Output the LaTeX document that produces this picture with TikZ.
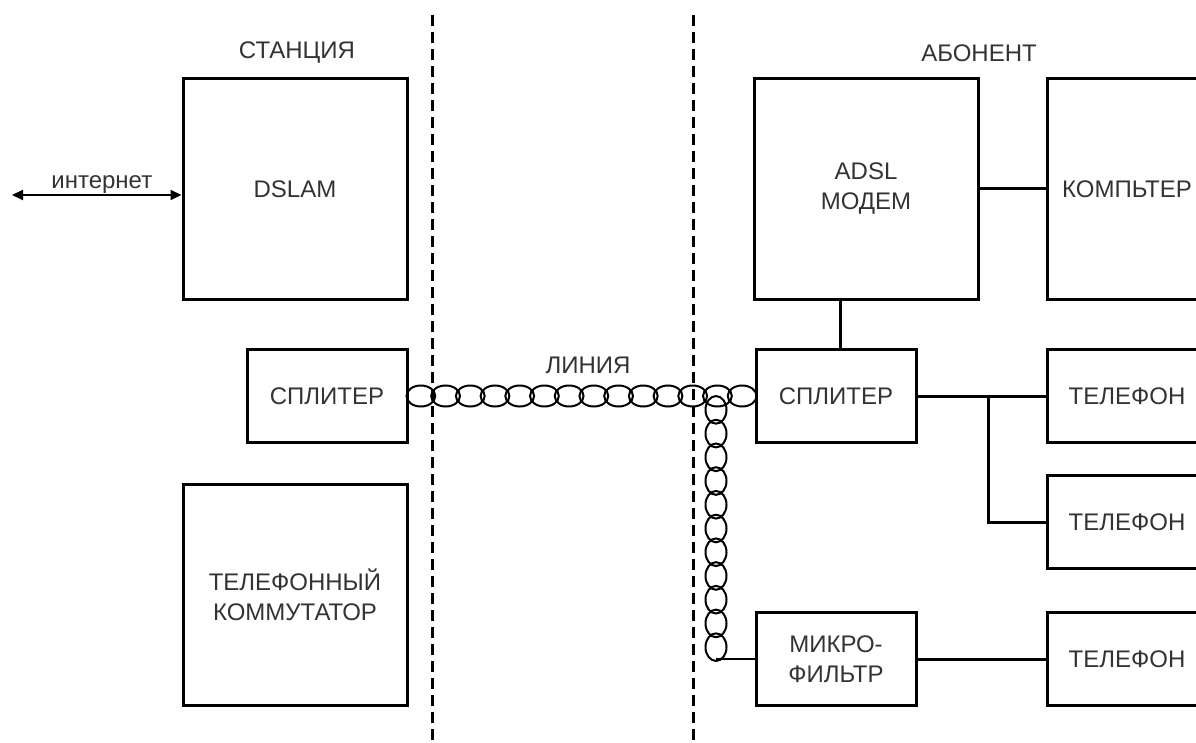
\documentclass[tikz,border=0pt]{standalone}
\usepackage{fontspec}
\setmainfont{Liberation Sans}
\usepackage{xcolor}
\usetikzlibrary{arrows.meta,calc}

\begin{document}
\begin{tikzpicture}[x=1pt,y=-1pt, font=\fontsize{24}{30}\selectfont,
  box/.style={draw=black, line width=3pt, align=center, inner sep=0pt, text=black!80},
  bigbox/.style={box, minimum width=224, minimum height=221},
  smallbox/.style={box, minimum width=160, minimum height=93},
  wire/.style={line width=3pt, draw=black},
  border/.style={line width=3pt, draw=black, dash pattern=on 11pt off 6pt},
  pair/.style={line width=2pt, draw=black},
  lab/.style={text=black!80, inner sep=1pt},
  ]
\useasboundingbox (0,0) rectangle (1196,743);
% ---- the station
\node[bigbox]   (dslam)  at (295,189) {DSLAM};
\node[smallbox] (splL)   at (327,396) {СПЛИТЕР};
\node[bigbox]   (switch) at (295,595) {ТЕЛЕФОННЫЙ\\КОММУТАТОР};
\node[lab] at (297,53) {СТАНЦИЯ};
\coordinate (net) at (12,195);
\draw[wire, line width=2pt, {Triangle[length=11pt,width=10pt]}-{Triangle[length=11pt,width=10pt]}]
  (net) -- node[lab, above, pos=0.53] {интернет} (net -| dslam.west);
% ---- the borders
\coordinate (b1t) at (432,15);
\coordinate (b1b) at (432,743);
\coordinate (b2t) at (693,15);
\coordinate (b2b) at (693,743);
\draw[border] (b1t) -- (b1b);
\draw[border] (b2t) -- (b2b);
% ---- the subscriber
\node[bigbox]   (modem) at (866,189) {ADSL\\МОДЕМ};
\node[bigbox, minimum width=160] (pc) at (1127,189) {КОМПЬТЕР};
\node[smallbox] (splR)  at (836,396) {СПЛИТЕР};
\node[smallbox] (ph1)   at (1127,396) {ТЕЛЕФОН};
\node[smallbox] (ph2)   at (1127,522) {ТЕЛЕФОН};
\node[smallbox] (mf)    at (836,659) {МИКРО-\\ФИЛЬТР};
\node[smallbox] (ph3)   at (1127,659) {ТЕЛЕФОН};
\node[lab] at (979,53) {АБОНЕНТ};
\draw[wire] (modem) -- (pc);
\draw[wire] ([xshift=4]splR.north) -- ([xshift=4]splR.north |- modem.south);
\draw[wire] (splR) -- (ph1);
\coordinate (br) at (988,396);
\draw[wire] (br) |- (ph2.west);
\draw[wire] (mf) -- (ph3);
% ---- the line, a twisted pair
\node[lab] at (588,365) {ЛИНИЯ};
\foreach \i [evaluate=\i as \f using (\i-0.5)/14] in {1,...,14}
  \draw[pair] ($(splL.east)!\f!(splR.west)$) ellipse[x radius=14.4, y radius=10.5];
\coordinate (tap) at (716,398);
\coordinate (bend) at (tap |- mf.west);
\foreach \i [evaluate=\i as \f using (\i-0.5)/11] in {1,...,11}
  \draw[pair] ($(tap)!\f!(bend)$) ellipse[x radius=10.5, y radius=13.8];
\draw[pair] (bend) -- (mf.west);
\end{tikzpicture}
\end{document}
